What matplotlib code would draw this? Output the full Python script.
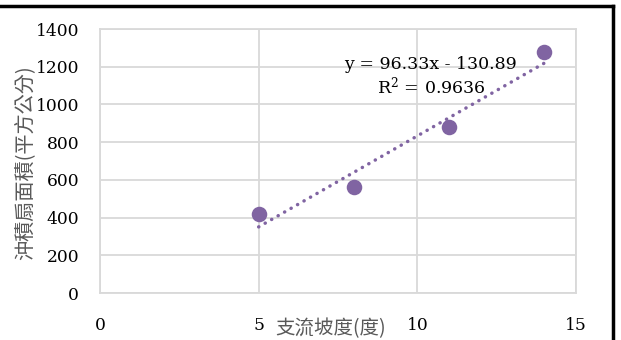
import matplotlib
matplotlib.use("Agg")
import matplotlib.pyplot as plt
from matplotlib.lines import Line2D
import numpy as np

slope_deg = [5, 8, 11, 14]
fan_area = [419, 562, 880, 1278]
x_ticks = [0, 5, 10, 15]
y_ticks = [0, 200, 400, 600, 800, 1000, 1200, 1400]
eq_text = "y = 96.33x - 130.89"
r2_text = "R$^2$ = 0.9636"
xlabel = "支流坡度(度)"
ylabel = "沖積扇面積(平方公分)"

W, H = 621, 340
fig = plt.figure(figsize=(W / 100, H / 100), dpi=100)
ax = fig.add_axes([100 / W, 1 - 293 / H, (576 - 100) / W, (293 - 29) / H])

purple = "#8064A2"
grid = "#D9D9D9"
serif = ["DejaVu Serif"]
cjk = ["Noto Sans CJK TC", "DejaVu Sans"]
plt.rcParams["mathtext.fontset"] = "dejavuserif"

ax.scatter(slope_deg, fan_area, s=125, color=purple, zorder=3, linewidths=0)
coef = np.polyfit(slope_deg, fan_area, 1)
xs = np.array([min(slope_deg), max(slope_deg)])
ax.plot(xs, np.polyval(coef, xs), color=purple, lw=2.5, linestyle=(0, (0.05, 2.1)),
        dash_capstyle="round", zorder=2)

ax.set_xlim(0, 15)
ax.set_ylim(0, 1400)
ax.set_xticks(x_ticks)
ax.set_yticks(y_ticks)
ax.grid(True, color=grid, lw=1.3)
ax.set_axisbelow(True)
for s in ax.spines.values():
    s.set_color(grid)
    s.set_linewidth(1.3)
ax.tick_params(length=0, pad=15, labelsize=12.3)
ax.tick_params(axis="x", pad=17)
for lab in ax.get_xticklabels() + ax.get_yticklabels():
    lab.set_family(serif)

ax.text(10.43, 1190, eq_text, ha="center", va="baseline", fontsize=12.5, family=serif)
ax.text(10.43, 1058, r2_text, ha="center", va="baseline", fontsize=12.5, family=serif)

fig.text(331 / W, 1 - 329 / H, xlabel, ha="center", va="center", fontsize=14, family=cjk, color="#595959")
fig.text(25 / W, 1 - 163 / H, ylabel, ha="center", va="center", rotation=90, fontsize=14.5, family=cjk, color="#595959")

fig.add_artist(Line2D([0, 613 / W], [1 - 6 / H, 1 - 6 / H], transform=fig.transFigure, color="black", lw=2.5))
fig.add_artist(Line2D([613 / W, 613 / W], [0, 1 - 6 / H], transform=fig.transFigure, color="black", lw=2.5))

fig.savefig("out.png", dpi=100)
